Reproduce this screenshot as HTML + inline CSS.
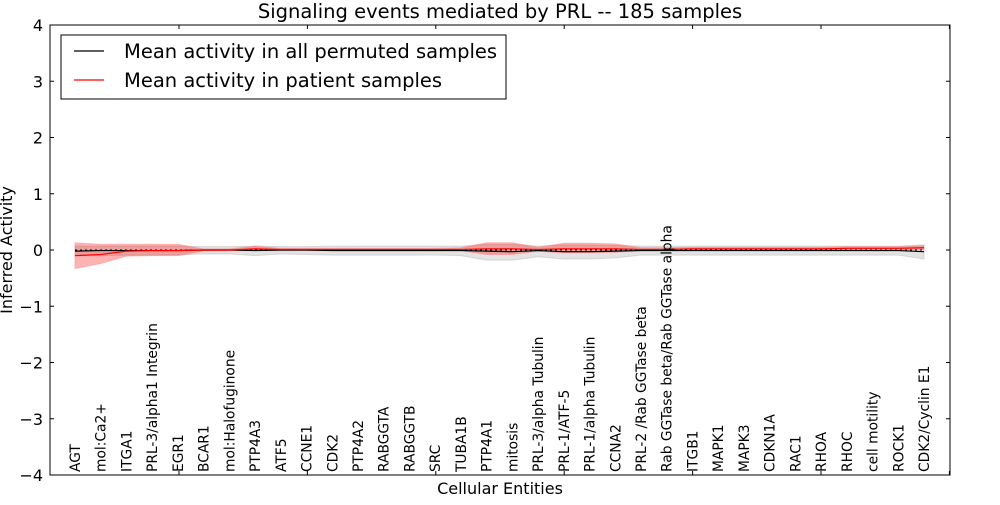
<!DOCTYPE html>
<html><head><meta charset="utf-8"><style>
body{margin:0;background:#fff;}
svg text{font-family:"DejaVu Sans","Liberation Sans",sans-serif;}
</style></head><body>
<svg id="chart" width="1000" height="500" xmlns="http://www.w3.org/2000/svg">
<rect width="1000" height="500" fill="#fff"/>
<text x="500" y="18" text-anchor="middle" font-size="19.5">Signaling events mediated by PRL -- 185 samples</text>
<g id="bands"></g><g id="lines"></g><g id="labels"></g><g id="axes"></g>
<text x="500" y="494" text-anchor="middle" font-size="16">Cellular Entities</text>
<text transform="translate(12,250) rotate(-90)" text-anchor="middle" font-size="16">Inferred Activity</text>
<g>
<rect x="61" y="35" width="445" height="64" fill="#fff" stroke="#000" stroke-width="1"/>
<line x1="74" y1="51" x2="104" y2="51" stroke="#000" stroke-width="1.2"/>
<text x="124" y="58" font-size="19.5">Mean activity in all permuted samples</text>
<line x1="74" y1="80" x2="104" y2="80" stroke="#f00" stroke-width="1.2"/>
<text x="124" y="87" font-size="19.5">Mean activity in patient samples</text>
</g>
</svg>
<script>
const categories=["AGT","mol:Ca2+","ITGA1","PRL-3/alpha1 Integrin","EGR1","BCAR1","mol:Halofuginone","PTP4A3","ATF5","CCNE1","CDK2","PTP4A2","RABGGTA","RABGGTB","SRC","TUBA1B","PTP4A1","mitosis","PRL-3/alpha Tubulin","PRL-1/ATF-5","PRL-1/alpha Tubulin","CCNA2","PRL-2 /Rab GGTase beta","Rab GGTase beta/Rab GGTase alpha","ITGB1","MAPK1","MAPK3","CDKN1A","RAC1","RHOA","RHOC","cell motility","ROCK1","CDK2/Cyclin E1"];
const permMean=[-0.02,-0.01,-0.01,-0.01,-0.01,0,0,-0.01,0,0,-0.01,-0.01,-0.01,-0.01,-0.01,-0.01,-0.02,-0.03,-0.01,-0.03,-0.03,-0.02,-0.01,-0.01,-0.01,-0.01,-0.01,-0.01,-0.01,-0.01,-0.01,-0.01,-0.01,-0.03];
const permLo=[-0.1,-0.1,-0.09,-0.09,-0.09,-0.07,-0.07,-0.1,-0.07,-0.08,-0.09,-0.09,-0.09,-0.09,-0.09,-0.1,-0.18,-0.18,-0.12,-0.16,-0.16,-0.14,-0.09,-0.09,-0.09,-0.09,-0.09,-0.09,-0.09,-0.09,-0.09,-0.09,-0.09,-0.16];
const permHi=[0.07,0.07,0.07,0.07,0.07,0.06,0.06,0.07,0.06,0.06,0.07,0.07,0.07,0.07,0.07,0.07,0.1,0.1,0.07,0.09,0.09,0.08,0.07,0.07,0.07,0.07,0.07,0.07,0.07,0.07,0.07,0.07,0.07,0.09];
const patMean=[-0.1,-0.08,-0.02,-0.01,-0.01,0,0,0.02,0.01,0.01,0.01,0.01,0.01,0.01,0.01,0.01,0.02,0.02,0.01,0.02,0.02,0.02,0.01,0.01,0.02,0.02,0.02,0.02,0.02,0.02,0.03,0.03,0.03,0.04];
const patLo=[-0.33,-0.24,-0.11,-0.1,-0.1,-0.02,-0.01,-0.01,-0.01,-0.01,-0.01,-0.01,-0.01,-0.01,-0.01,-0.01,-0.08,-0.08,-0.02,-0.05,-0.05,-0.04,-0.01,0,0,0,0,0,0,0,0.01,0.01,0.01,0.01];
const patHi=[0.13,0.1,0.1,0.1,0.1,0.02,0.02,0.07,0.03,0.03,0.03,0.03,0.03,0.03,0.03,0.04,0.13,0.13,0.05,0.12,0.12,0.11,0.04,0.04,0.05,0.05,0.05,0.05,0.05,0.05,0.06,0.06,0.06,0.08];
const yTicks=[4,3,2,1,0,-1,-2,-3,-4];
const yTickLabels=["4","3","2","1","0","\u22121","\u22122","\u22123","\u22124"];
const L=50,R=950,T=25,B=475,X0=75,X1=924;
const NS="http://www.w3.org/2000/svg";
function xs(i){return X0+i*(X1-X0)/(categories.length-1);}
function ys(v){return T+(4-v)*(B-T)/8;}
function mk(tag,attrs,parent){const e=document.createElementNS(NS,tag);for(const k in attrs)e.setAttribute(k,attrs[k]);parent.appendChild(e);return e;}
function bandPath(lo,hi){let d="";hi.forEach((v,i)=>{d+=(i?"L":"M")+xs(i)+","+ys(v);});for(let i=lo.length-1;i>=0;i--)d+="L"+xs(i)+","+ys(lo[i]);return d+"Z";}
function linePath(a){return a.map((v,i)=>(i?"L":"M")+xs(i)+","+ys(v)).join("");}
const bands=document.getElementById("bands"),lines=document.getElementById("lines"),labels=document.getElementById("labels"),axes=document.getElementById("axes");
let e=mk("path",{d:bandPath(permLo,permHi),fill:"#c8c8c8","fill-opacity":"0.5",stroke:"#bbb","stroke-opacity":"0.5"},bands);


e=mk("path",{d:bandPath(patLo,patHi),fill:"#ff0000","fill-opacity":"0.3",stroke:"#f88","stroke-opacity":"0.5"},bands);


e=mk("line",{x1:X0,x2:X1,y1:ys(0),y2:ys(0),stroke:"#000","stroke-dasharray":"2,3","stroke-width":"1"},lines);


e=mk("path",{d:linePath(permMean),fill:"none",stroke:"#000","stroke-width":"1.2"},lines);


e=mk("path",{d:linePath(patMean),fill:"none",stroke:"#f00","stroke-width":"1.2"},lines);


categories.forEach((c,i)=>{
 const t=mk("text",{transform:"translate("+(xs(i)+5)+",472) rotate(-90)","font-size":"13.8"},labels);
 t.textContent=c;
 
 
});
e=mk("rect",{x:L,y:T,width:R-L,height:B-T,fill:"none",stroke:"#000","stroke-width":"1"},axes);


yTicks.forEach((v,i)=>{
 mk("line",{x1:L,x2:L+4,y1:ys(v),y2:ys(v),stroke:"#000"},axes);
 mk("line",{x1:R,x2:R-4,y1:ys(v),y2:ys(v),stroke:"#000"},axes);
 const t=mk("text",{x:L-7,y:ys(v)+6,"text-anchor":"end","font-size":"16"},axes);
 t.textContent=yTickLabels[i];
 
 
});
for(let i=0;i<7;i++){const x=179+i*128.4;if(x>=R)break;
 mk("line",{x1:x,x2:x,y1:T,y2:T+4,stroke:"#000"},axes);
 mk("line",{x1:x,x2:x,y1:B,y2:B-4,stroke:"#000"},axes);}
</script>
</body></html>
